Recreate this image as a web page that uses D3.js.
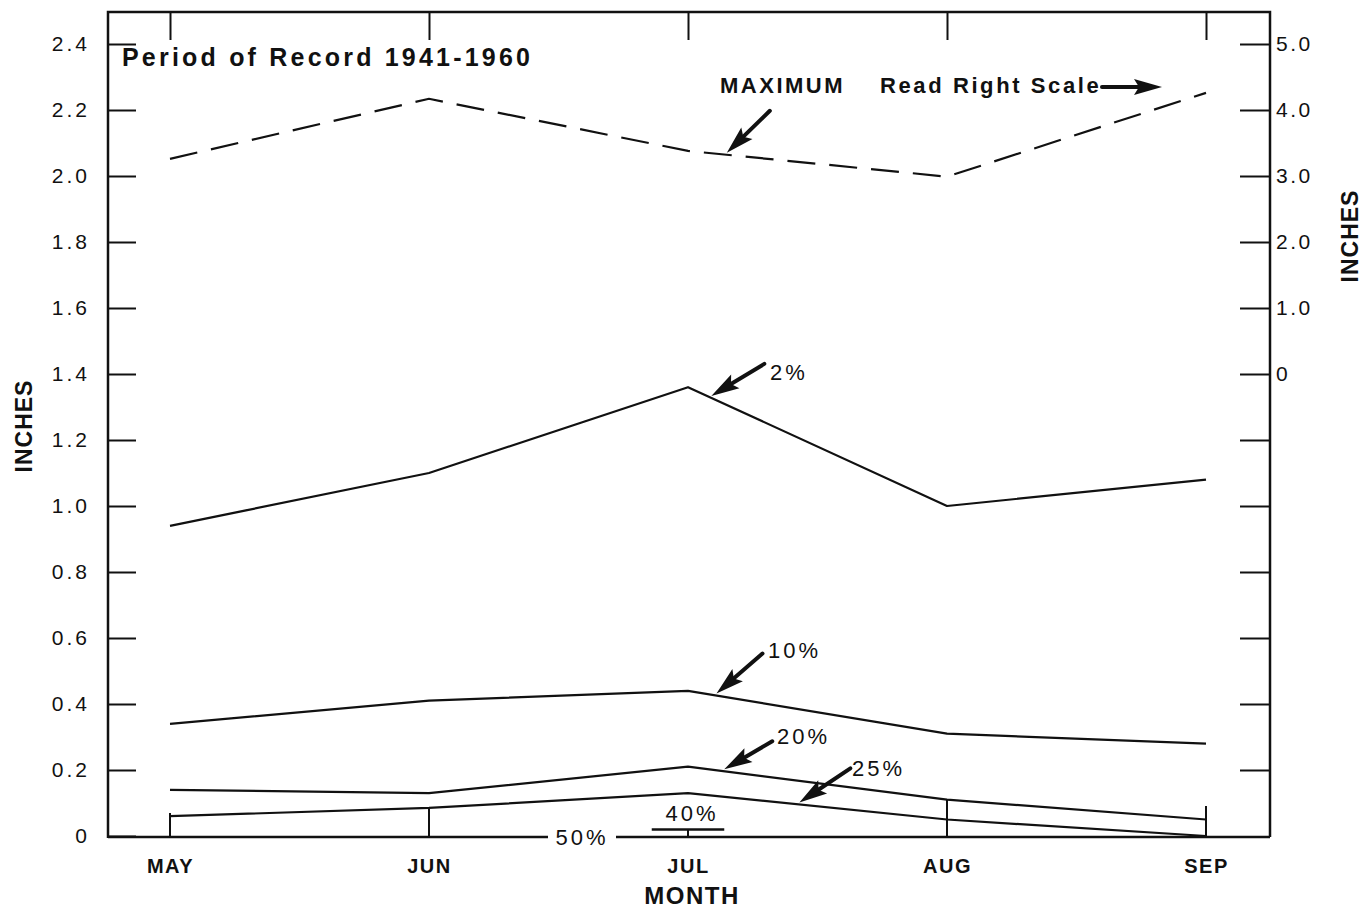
<!DOCTYPE html>
<html>
<head>
<meta charset="utf-8">
<script src="https://cdn.jsdelivr.net/npm/d3@7/dist/d3.min.js"></script>
<style>
  html, body { margin: 0; padding: 0; background: #fff; }
  svg { display: block; }
  text { font-family: "Liberation Sans", Arial, sans-serif; fill: #111; }
</style>
</head>
<body>
<svg id="chart" width="1369" height="912"></svg>
<script>
// ---- data ----
const months = ["MAY", "JUN", "JUL", "AUG", "SEP"];
const maximumRight = [3.26, 4.17, 3.38, 2.99, 4.26];   // read on right scale
const pct2  = [0.94, 1.10, 1.36, 1.00, 1.08];
const pct10 = [0.34, 0.41, 0.44, 0.31, 0.28];
const pct20 = [0.14, 0.13, 0.21, 0.11, 0.05];
const pct25 = [0.06, 0.085, 0.13, 0.05, 0.0];
const pct40Jul = 0.02;
const pct50 = [0, 0, 0, 0, 0];
const leftTicks = [0, 0.2, 0.4, 0.6, 0.8, 1.0, 1.2, 1.4, 1.6, 1.8, 2.0, 2.2, 2.4];
const leftTickLabels = ["0", "0.2", "0.4", "0.6", "0.8", "1.0", "1.2", "1.4", "1.6", "1.8", "2.0", "2.2", "2.4"];
const rightTicks = [0, 1, 2, 3, 4, 5];
const rightTickLabels = ["0", "1.0", "2.0", "3.0", "4.0", "5.0"];
const titleText = "Period of Record 1941-1960";

// ---- layout ----
const L = 108, R = 1270, T = 12, B = 837;
const svg = d3.select("#chart");
const ink = "#111";

const xi = d3.scaleLinear().domain([0, months.length - 1]).range([170, 1206]);
const yL = d3.scaleLinear().domain([0, 2.4]).range([836, 44]);
const yR = d3.scaleLinear().domain([0, 5]).range([yL(1.4), yL(2.4)]);

// frame (bottom drawn separately, broken by "50%")
svg.append("path")
  .attr("d", `M${L},${B + 1} L${L},${T} L${R},${T} L${R},${B}`)
  .attr("fill", "none").attr("stroke", ink).attr("stroke-width", 2.5);

// left axis
const gl = svg.append("g").attr("transform", `translate(${L},0)`)
  .call(d3.axisLeft(yL).tickValues(leftTicks).tickSize(-28).tickPadding(18)
    .tickFormat((d, i) => leftTickLabels[i]));
gl.select(".domain").remove();
gl.selectAll("line").attr("stroke", ink).attr("stroke-width", 2);
gl.selectAll("text").style("font-size", "21px").style("letter-spacing", "3px").attr("fill", ink);

// right axis (labelled part)
const gr = svg.append("g").attr("transform", `translate(${R},0)`)
  .call(d3.axisRight(yR).tickValues(rightTicks).tickSize(-30).tickPadding(6)
    .tickFormat((d, i) => rightTickLabels[i]));
gr.select(".domain").remove();
gr.selectAll("line").attr("stroke", ink).attr("stroke-width", 2);
gr.selectAll("text").style("font-size", "21px").style("letter-spacing", "2.5px").attr("fill", ink);
// unlabelled right ticks below
const gr2 = svg.append("g").attr("transform", `translate(${R},0)`)
  .call(d3.axisRight(yL).tickValues(leftTicks.filter(v => v > 0 && v < 1.4)).tickSize(-30).tickFormat(""));
gr2.select(".domain").remove();
gr2.selectAll("line").attr("stroke", ink).attr("stroke-width", 2);

// top ticks
const gt = svg.append("g").attr("transform", `translate(0,${T})`)
  .call(d3.axisTop(xi).tickValues(d3.range(months.length)).tickSize(-28).tickFormat(""));
gt.select(".domain").remove();
gt.selectAll("line").attr("stroke", ink).attr("stroke-width", 2);

// bottom axis labels
const gb = svg.append("g").attr("transform", `translate(0,${B})`)
  .call(d3.axisBottom(xi).tickValues(d3.range(months.length)).tickSize(0).tickPadding(22)
    .tickFormat(i => months[i]));
gb.select(".domain").remove();
gb.selectAll("text").style("font-size", "20px").style("font-weight", "bold")
  .style("letter-spacing", "1.5px").attr("fill", ink);
// bottom ticks of varying length
const bottomTickLen = [24, 28, 8, 38, 31];
svg.append("g").selectAll("line").data(d3.range(months.length)).join("line")
  .attr("x1", i => xi(i)).attr("x2", i => xi(i))
  .attr("y1", B).attr("y2", (i) => B - bottomTickLen[i])
  .attr("stroke", ink).attr("stroke-width", 2);

// series lines
const lineL = d3.line().x((d, i) => xi(i)).y(d => yL(d));
const lineR = d3.line().x((d, i) => xi(i)).y(d => yR(d));
[pct2, pct10, pct20, pct25].forEach(s => {
  svg.append("path").attr("d", lineL(s)).attr("fill", "none")
    .attr("stroke", ink).attr("stroke-width", 2.2).attr("stroke-linejoin", "round");
});
svg.append("path").attr("d", lineR(maximumRight)).attr("fill", "none")
  .attr("stroke", ink).attr("stroke-width", 2.2).attr("stroke-dasharray", "28,14");

// 50% baseline with gap for label
const lab50x = 582;
svg.append("line").attr("x1", L).attr("x2", lab50x - 34).attr("y1", yL(0) + 1).attr("y2", yL(0) + 1)
  .attr("stroke", ink).attr("stroke-width", 2.5);
svg.append("line").attr("x1", lab50x + 34).attr("x2", R).attr("y1", yL(0) + 1).attr("y2", yL(0) + 1)
  .attr("stroke", ink).attr("stroke-width", 2.5);
svg.append("text").attr("x", lab50x).attr("y", yL(0) + 9).attr("text-anchor", "middle")
  .style("font-size", "22px").style("letter-spacing", "3px").text("50%");

// 40% short bar at July
svg.append("line").attr("x1", xi(2 - 0.14)).attr("x2", xi(2 + 0.14))
  .attr("y1", yL(pct40Jul)).attr("y2", yL(pct40Jul)).attr("stroke", ink).attr("stroke-width", 2.5);
svg.append("text").attr("x", xi(2) + 4).attr("y", yL(pct40Jul) - 8).attr("text-anchor", "middle")
  .style("font-size", "22px").style("letter-spacing", "3px").text("40%");

// arrows
function interp(s, t) {
  const i = Math.min(Math.floor(t), s.length - 2), f = t - i;
  return s[i] + (s[i + 1] - s[i]) * f;
}
function arrow(x0, y0, x1, y1) {
  const ang = Math.atan2(y1 - y0, x1 - x0);
  const hl = 28, hw = 8;
  const bx = x1 - hl * Math.cos(ang), by = y1 - hl * Math.sin(ang);
  const px = -Math.sin(ang) * hw, py = Math.cos(ang) * hw;
  svg.append("line").attr("x1", x0).attr("y1", y0).attr("x2", bx + 6 * Math.cos(ang)).attr("y2", by + 6 * Math.sin(ang))
    .attr("stroke", ink).attr("stroke-width", 4).attr("stroke-linecap", "round");
  svg.append("path")
    .attr("d", `M${x1},${y1} L${bx + px},${by + py} L${bx + 5 * Math.cos(ang)},${by + 5 * Math.sin(ang)} L${bx - px},${by - py} Z`)
    .attr("fill", ink);
}
const notes = [
  { s: maximumRight, sc: yR, t: 2.15, dx: 43, dy: -42, text: "MAXIMUM", tx: 720, ty: 93, bold: true },
  { s: pct2,  sc: yL, t: 2.09, dx: 53, dy: -32, text: "2%",  tx: 770, ty: 380 },
  { s: pct10, sc: yL, t: 2.11, dx: 46, dy: -40, text: "10%", tx: 768, ty: 658 },
  { s: pct20, sc: yL, t: 2.14, dx: 48, dy: -28, text: "20%", tx: 777, ty: 744 },
  { s: pct25, sc: yL, t: 2.43, dx: 51, dy: -34, text: "25%", tx: 852, ty: 776 }
];
notes.forEach(n => {
  const x1 = xi(n.t), y1 = n.sc(interp(n.s, n.t)) - 2;
  arrow(x1 + n.dx, y1 + n.dy, x1, y1);
  svg.append("text").attr("x", n.tx).attr("y", n.ty)
    .style("font-size", "22px").style("font-weight", n.bold ? "bold" : "normal")
    .style("letter-spacing", n.bold ? "2.5px" : "3px").text(n.text);
});

// Read Right Scale
svg.append("text").attr("x", 880).attr("y", 93).style("font-size", "22px").style("font-weight", "bold")
  .style("letter-spacing", "2.6px").text("Read Right Scale");
arrow(1102, 87, 1162, 87);

// title
svg.append("text").attr("x", 122).attr("y", 66).style("font-size", "25px").style("font-weight", "bold")
  .style("letter-spacing", "3.2px").text(titleText);

// axis titles
svg.append("text").attr("x", 692).attr("y", 904).attr("text-anchor", "middle")
  .style("font-size", "24px").style("font-weight", "bold").style("letter-spacing", "1.5px").text("MONTH");
svg.append("text").attr("transform", "translate(32,426) rotate(-90)").attr("text-anchor", "middle")
  .style("font-size", "23px").style("font-weight", "bold").style("letter-spacing", "1px").text("INCHES");
svg.append("text").attr("transform", "translate(1358,236) rotate(-90)").attr("text-anchor", "middle")
  .style("font-size", "23px").style("font-weight", "bold").style("letter-spacing", "1px").text("INCHES");
</script>
</body>
</html>
